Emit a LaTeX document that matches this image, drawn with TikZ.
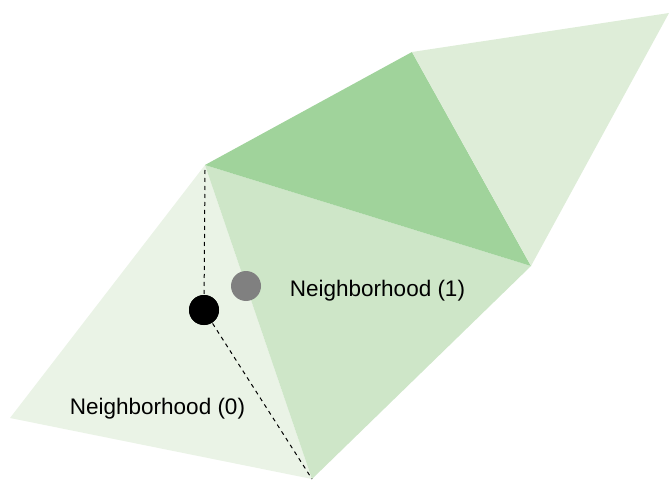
\documentclass[tikz,border=0pt]{standalone}
\usepackage{fontspec}
\setmainfont{Liberation Sans}
\definecolor{gLeft}{RGB}{234,243,230}
\definecolor{gMid}{RGB}{206,230,200}
\definecolor{gTop}{RGB}{160,211,155}
\definecolor{gRight}{RGB}{222,237,216}
\definecolor{dotgray}{RGB}{128,128,128}
\begin{document}
\begin{tikzpicture}[x=1pt,y=-1pt,
  face/.style={draw=none},
  dot/.style={circle,minimum size=30pt,inner sep=0pt},
  guide/.style={black,line width=1pt,dash pattern=on 4pt off 4pt},
  lbl/.style={font=\fontsize{22.5pt}{25pt}\selectfont,inner sep=0pt}]
\useasboundingbox (0,0) rectangle (669,481);
\coordinate (A) at (205,165);
\coordinate (B) at (412,52);
\coordinate (C) at (669,13);
\coordinate (D) at (531,266);
\coordinate (E) at (312,479);
\coordinate (F) at (10,418);
\fill[gLeft] (F) -- (A) -- (E) -- cycle;
\fill[gMid] (A) -- (D) -- (E) -- cycle;
\fill[gTop] (A) -- (B) -- (D) -- cycle;
\fill[gRight] (B) -- (C) -- (D) -- cycle;
\node[dot,fill=black] (p0) at (204,310) {};
\node[dot,fill=dotgray] (p1) at (246,286) {};
\coordinate (Atop) at (205,170);
\draw[guide] (Atop) -- (p0.center);
\draw[guide] (p0.center) -- (E);
\node[dot,fill=black] at (p0) {};
\node[lbl] (l1) at (377.5,291) {Neighborhood (1)};
\node[lbl] (l0) at (157.5,409) {Neighborhood (0)};
\end{tikzpicture}
\end{document}
